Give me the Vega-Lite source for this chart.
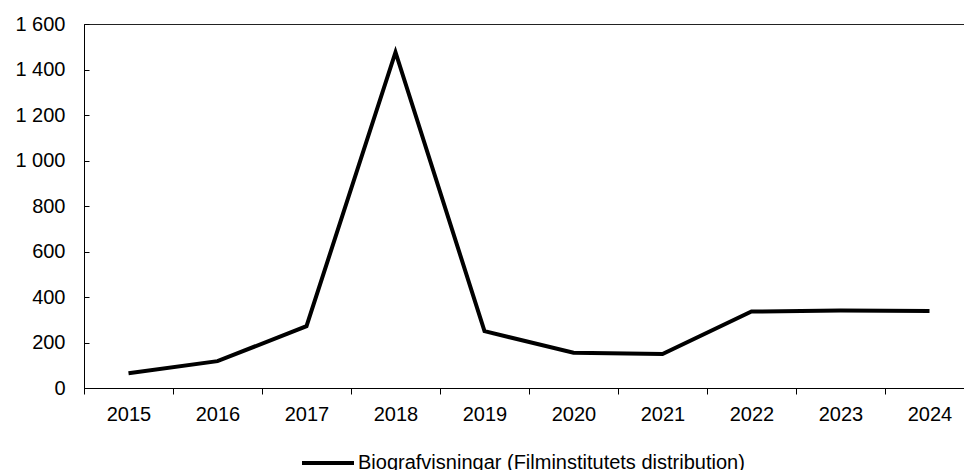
{
  "$schema": "https://vega.github.io/schema/vega-lite/v6.json",
  "width": 890,
  "height": 364,
  "autosize": {"type": "none"},
  "padding": {"left": 84, "top": 24, "right": 0, "bottom": 82},
  "data": {
    "values": [
      {"year": "2015", "value": 65, "series": "Biografvisningar (Filminstitutets distribution)"},
      {"year": "2016", "value": 118, "series": "Biografvisningar (Filminstitutets distribution)"},
      {"year": "2017", "value": 272, "series": "Biografvisningar (Filminstitutets distribution)"},
      {"year": "2018", "value": 1476, "series": "Biografvisningar (Filminstitutets distribution)"},
      {"year": "2019", "value": 250, "series": "Biografvisningar (Filminstitutets distribution)"},
      {"year": "2020", "value": 155, "series": "Biografvisningar (Filminstitutets distribution)"},
      {"year": "2021", "value": 149, "series": "Biografvisningar (Filminstitutets distribution)"},
      {"year": "2022", "value": 336, "series": "Biografvisningar (Filminstitutets distribution)"},
      {"year": "2023", "value": 341, "series": "Biografvisningar (Filminstitutets distribution)"},
      {"year": "2024", "value": 339, "series": "Biografvisningar (Filminstitutets distribution)"}
    ]
  },
  "mark": {"type": "line", "strokeWidth": 4, "strokeJoin": "miter", "strokeCap": "butt"},
  "encoding": {
    "x": {
      "field": "year",
      "type": "ordinal",
      "bandPosition": 0.5,
      "scale": {"type": "band", "paddingInner": 0, "paddingOuter": 0},
      "axis": {
        "title": null,
        "labelAngle": 0,
        "tickBand": "extent",
        "tickSize": 6,
        "labelPadding": 10,
        "domainColor": "#000",
        "tickColor": "#000"
      }
    },
    "y": {
      "field": "value",
      "type": "quantitative",
      "scale": {"domain": [0, 1600], "nice": false},
      "axis": {
        "title": null,
        "values": [0, 200, 400, 600, 800, 1000, 1200, 1400, 1600],
        "format": ",d",
        "grid": false,
        "tickSize": -5,
        "labelPadding": 24,
        "domainColor": "#000",
        "tickColor": "#000"
      }
    },
    "color": {
      "field": "series",
      "type": "nominal",
      "scale": {"range": ["#000000"]},
      "legend": {
        "title": null,
        "orient": "none",
        "legendX": 216,
        "legendY": 411,
        "symbolType": "stroke",
        "symbolSize": 2704,
        "symbolStrokeWidth": 4,
        "symbolStrokeColor": "#000",
        "labelOffset": 2
      }
    }
  },
  "config": {
    "locale": {
      "number": {"decimal": ",", "thousands": " ", "grouping": [3], "currency": ["", " kr"]}
    },
    "font": "Liberation Sans",
    "view": {"stroke": "#222", "strokeWidth": 1},
    "axis": {
      "labelFont": "Liberation Sans",
      "labelFontSize": 20,
      "labelColor": "#000",
      "domainWidth": 1,
      "tickWidth": 1
    },
    "legend": {
      "labelFont": "Liberation Sans",
      "labelFontSize": 20,
      "labelColor": "#000",
      "labelLimit": 600
    }
  }
}
